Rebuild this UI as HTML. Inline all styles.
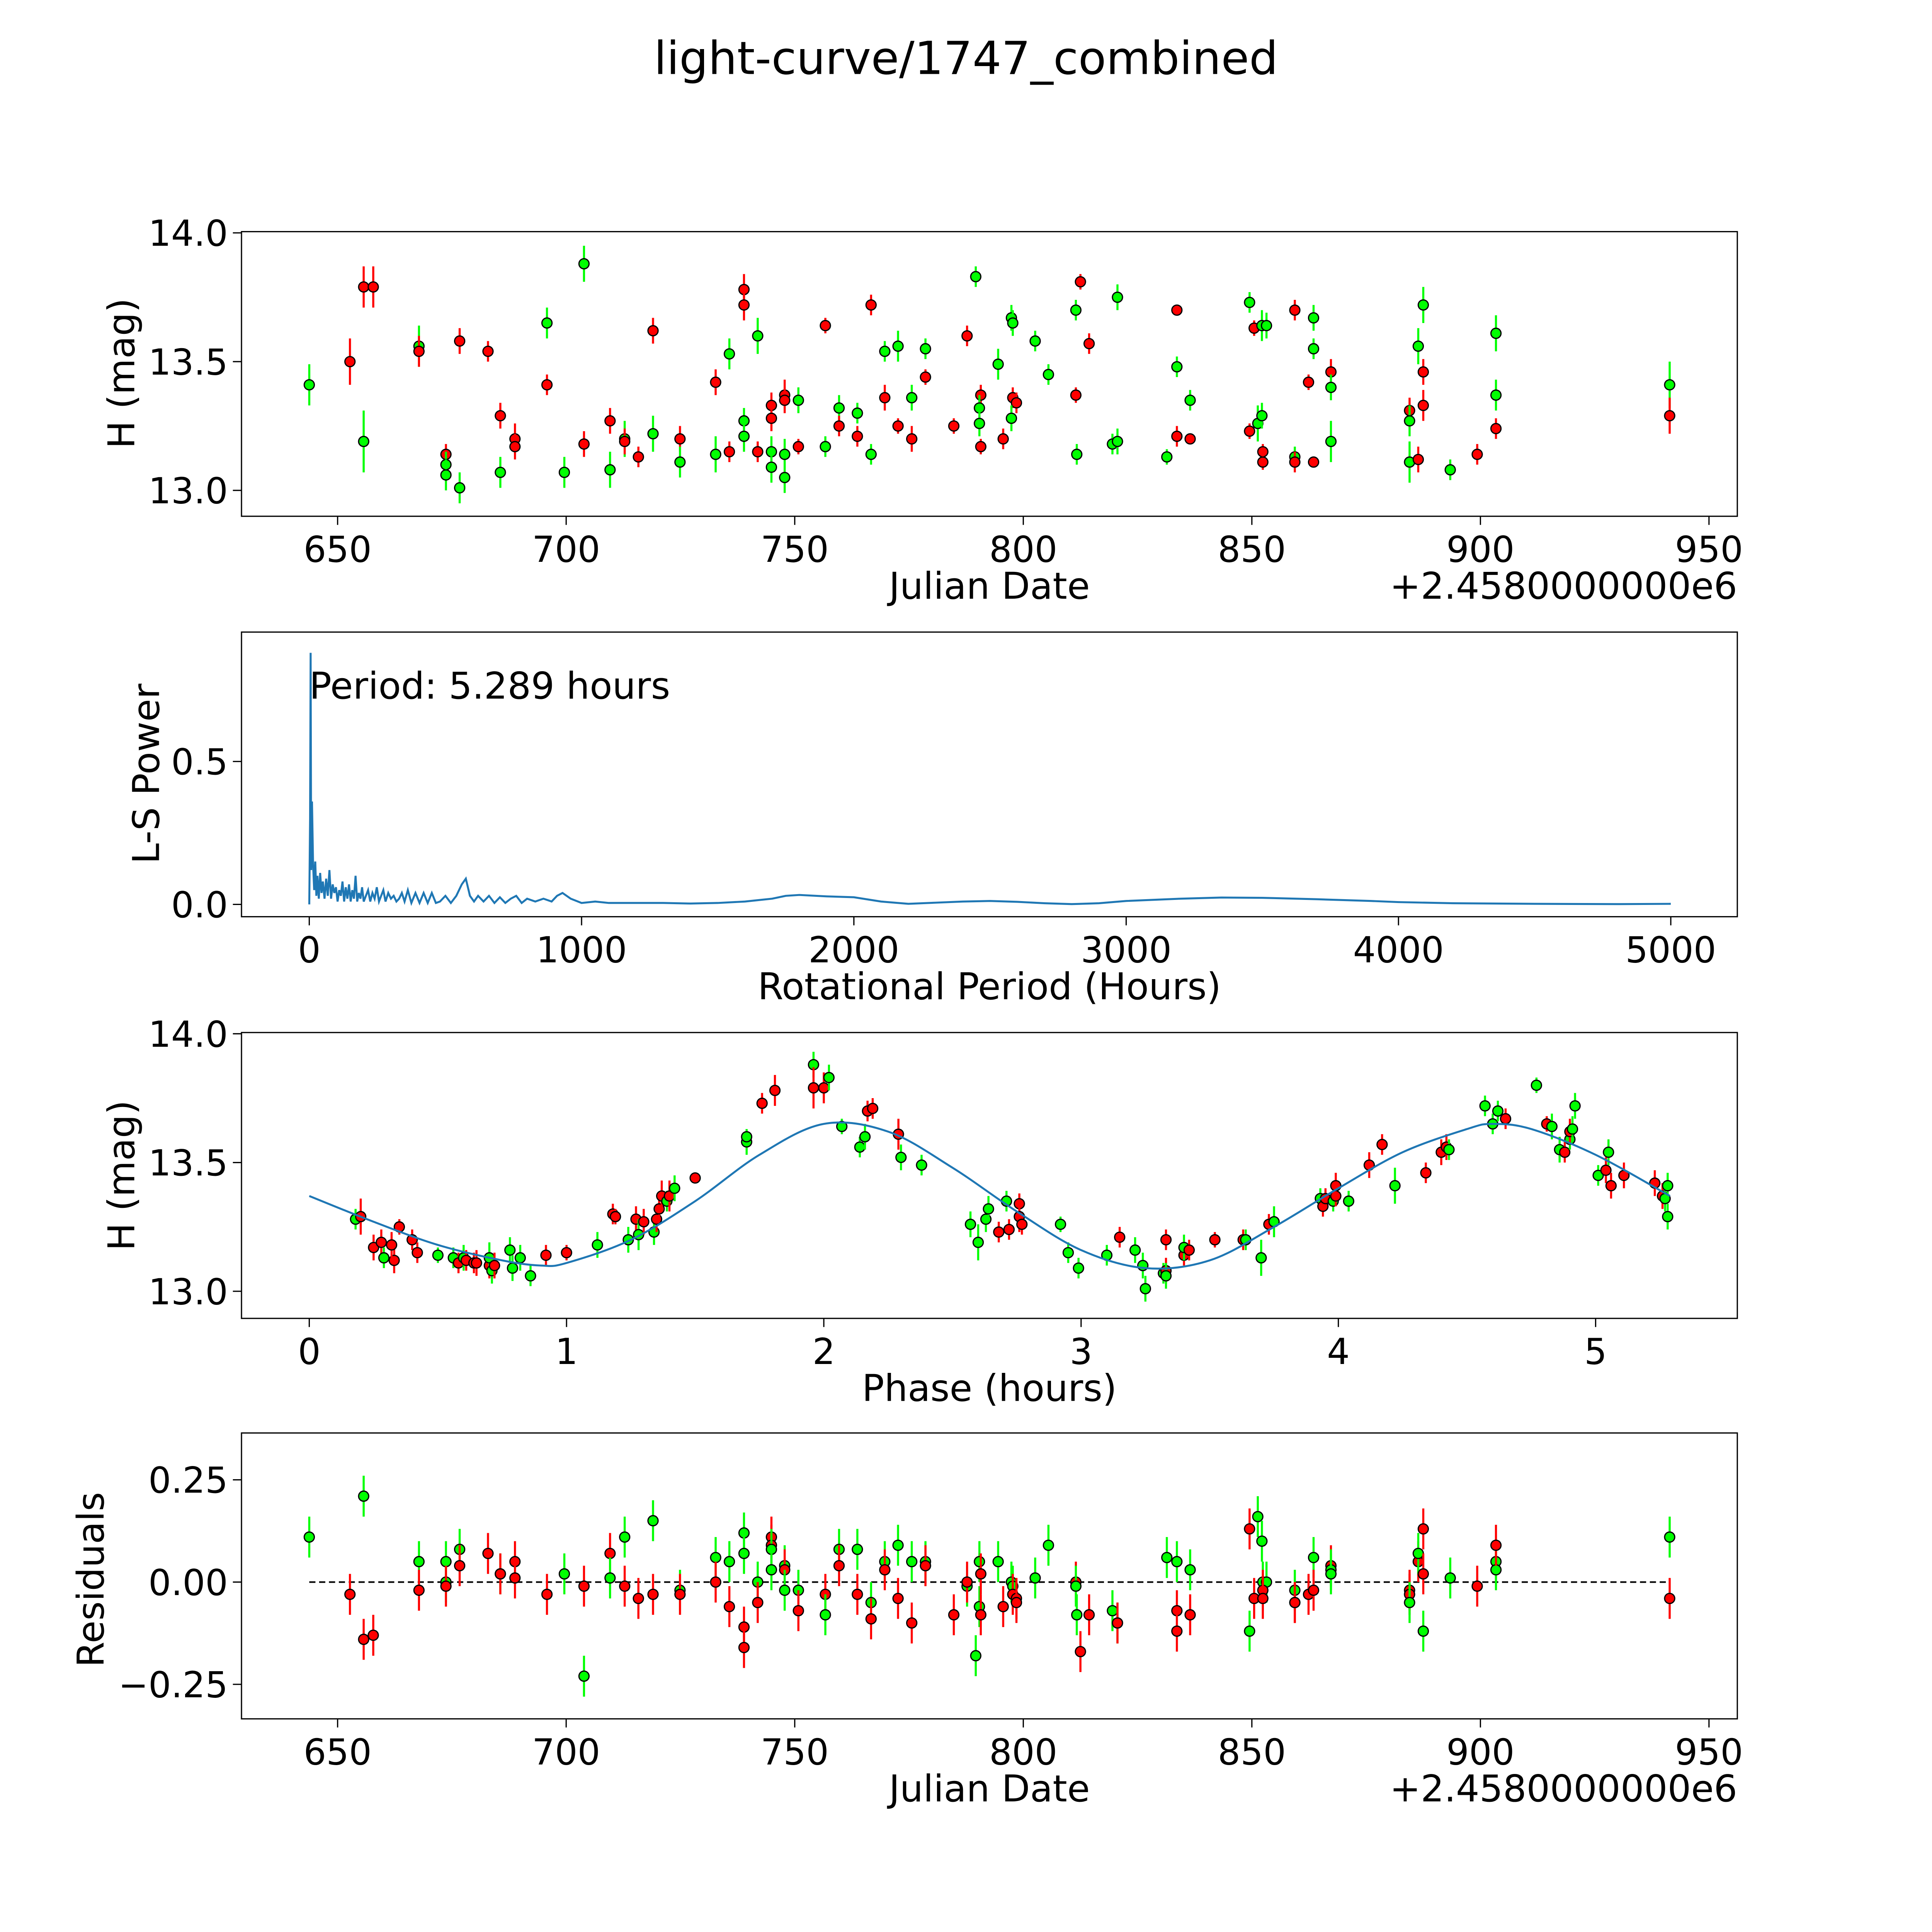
<!DOCTYPE html>
<html><head><meta charset="utf-8"><style>
html,body{margin:0;padding:0;background:#fff;overflow:hidden;width:100vw;height:100vh}
svg{display:block;width:100vw;height:100vh}
text{font-family:"DejaVu Sans","Liberation Sans",sans-serif;fill:#000}
</style></head><body>
<svg id="fig" xmlns="http://www.w3.org/2000/svg" viewBox="0 0 1568 1568" preserveAspectRatio="none">
<rect width="1568" height="1568" fill="#fff"/>
<text x="784" y="60" font-size="37" text-anchor="middle">light-curve/1747_combined</text>
<g id="p1"></g>
<g id="p2"></g>
<g id="p3"></g>
<g id="p4"></g>
</svg>
<script>
// ---------- data ----------
const lcDates=[643.8,652.7,655.7,657.8,655.7,667.8,667.8,673.7,673.7,673.7,676.7,676.7,682.9,685.6,685.6,688.8,688.8,695.8,695.8,699.6,703.9,703.9,709.6,709.6,712.8,712.8,715.8,719.0,719.0,724.9,724.9,732.7,732.7,735.7,735.7,738.9,738.9,738.9,738.9,741.9,741.9,744.9,744.9,744.9,744.9,747.8,747.8,747.8,747.8,750.8,750.8,756.7,756.7,759.7,759.7,763.7,763.7,766.7,766.7,769.7,769.7,772.6,772.6,775.6,775.6,778.6,778.6,784.8,787.7,789.6,790.7,790.4,790.4,790.7,794.5,795.6,797.4,797.7,797.7,798.5,797.4,802.6,805.5,811.5,811.5,811.7,812.5,814.4,819.5,820.6,820.6,831.4,833.6,833.6,833.6,836.5,836.5,849.5,849.5,850.5,851.3,852.2,852.2,853.2,852.4,852.4,859.4,859.4,859.4,862.4,863.5,863.5,863.5,867.3,867.3,867.3,884.5,884.5,884.5,886.4,886.4,887.5,887.5,887.5,893.4,899.3,903.4,903.4,903.4,941.4,941.4];
const lcMags=[13.41,13.50,13.79,13.79,13.19,13.56,13.54,13.14,13.10,13.06,13.58,13.01,13.54,13.29,13.07,13.20,13.17,13.65,13.41,13.07,13.88,13.18,13.27,13.08,13.20,13.19,13.13,13.62,13.22,13.20,13.11,13.42,13.14,13.53,13.15,13.78,13.72,13.27,13.21,13.60,13.15,13.33,13.28,13.15,13.09,13.37,13.35,13.14,13.05,13.35,13.17,13.64,13.17,13.32,13.25,13.30,13.21,13.72,13.14,13.54,13.36,13.56,13.25,13.36,13.20,13.55,13.44,13.25,13.60,13.83,13.37,13.32,13.26,13.17,13.49,13.20,13.67,13.65,13.36,13.34,13.28,13.58,13.45,13.70,13.37,13.14,13.81,13.57,13.18,13.75,13.19,13.13,13.48,13.70,13.21,13.35,13.20,13.73,13.23,13.63,13.26,13.29,13.64,13.64,13.15,13.11,13.70,13.13,13.11,13.42,13.67,13.55,13.11,13.46,13.40,13.19,13.31,13.27,13.11,13.56,13.12,13.72,13.46,13.33,13.08,13.14,13.61,13.37,13.24,13.41,13.29];
const lcColors=['g','r','r','r','g','g','r','r','g','g','r','g','r','r','g','r','r','g','r','g','g','r','r','g','g','r','r','r','g','r','g','r','g','g','r','r','r','g','g','g','r','r','r','g','g','r','r','g','g','g','r','r','g','g','r','g','r','r','g','g','r','g','r','g','r','g','r','r','r','g','r','g','g','r','g','r','g','g','r','r','g','g','g','g','r','g','r','r','g','g','g','g','g','r','r','g','r','g','r','r','g','g','g','g','r','r','r','g','r','r','g','g','r','r','g','g','r','g','g','g','r','g','r','r','g','r','g','g','r','g','r'];
const lcErrs=[0.08,0.09,0.08,0.08,0.12,0.08,0.06,0.04,0.05,0.06,0.05,0.06,0.04,0.05,0.06,0.06,0.05,0.06,0.04,0.06,0.07,0.05,0.05,0.07,0.07,0.05,0.04,0.05,0.07,0.05,0.06,0.05,0.07,0.06,0.04,0.06,0.06,0.05,0.06,0.07,0.04,0.05,0.05,0.06,0.06,0.06,0.05,0.06,0.06,0.05,0.03,0.03,0.04,0.05,0.04,0.04,0.04,0.04,0.04,0.04,0.05,0.06,0.03,0.05,0.05,0.04,0.03,0.03,0.04,0.04,0.04,0.05,0.05,0.03,0.06,0.04,0.05,0.05,0.04,0.04,0.05,0.04,0.04,0.04,0.03,0.04,0.03,0.04,0.04,0.05,0.05,0.03,0.04,0.02,0.04,0.04,0.02,0.04,0.03,0.03,0.07,0.05,0.06,0.05,0.03,0.03,0.04,0.04,0.04,0.03,0.05,0.04,0.02,0.05,0.05,0.08,0.05,0.06,0.08,0.07,0.05,0.07,0.05,0.06,0.04,0.04,0.07,0.06,0.04,0.09,0.07];

const resDates=[643.8,652.7,655.7,655.7,657.8,667.8,667.8,673.7,673.7,673.7,676.7,676.7,682.9,685.6,685.6,688.8,688.8,695.8,699.6,703.9,703.9,709.6,709.6,712.8,712.8,715.8,719.0,719.0,724.9,724.9,732.7,732.7,735.7,735.7,738.9,738.9,738.9,738.9,741.9,741.9,744.9,744.9,744.9,744.9,747.8,747.8,747.8,750.8,750.8,756.7,756.7,759.7,759.7,763.7,763.7,766.7,766.7,769.7,769.7,772.6,772.6,775.6,775.6,778.6,778.6,784.8,787.7,787.7,789.6,790.4,790.4,790.7,790.7,794.5,795.6,797.4,797.7,797.7,798.5,798.5,802.6,805.5,811.5,811.5,811.7,812.5,814.4,819.5,820.6,820.6,831.4,833.6,833.6,833.6,836.5,836.5,849.5,849.5,850.5,851.3,852.2,852.4,853.2,852.4,852.4,859.4,859.4,859.4,862.4,863.5,863.5,867.3,867.3,867.3,884.5,884.5,884.5,886.4,886.4,887.5,887.5,887.5,893.4,899.3,903.4,903.4,903.4,941.4,941.4];
const resVals=[0.11,-0.03,0.21,-0.14,-0.13,0.05,-0.02,0.05,0.00,-0.01,0.08,0.04,0.07,0.02,0.02,0.05,0.01,-0.03,0.02,-0.01,-0.23,0.07,0.01,0.11,-0.01,-0.04,0.15,-0.03,-0.02,-0.03,0.06,0.00,0.05,-0.06,0.12,0.07,-0.11,-0.16,0.00,-0.05,0.11,0.09,0.08,0.03,0.04,0.03,-0.02,-0.02,-0.07,-0.03,-0.08,0.08,0.04,0.08,-0.03,-0.05,-0.09,0.05,0.03,0.09,-0.04,0.05,-0.10,0.05,0.04,-0.08,-0.01,0.00,-0.18,0.05,-0.06,0.02,-0.08,0.05,-0.06,0.00,-0.01,-0.03,-0.04,-0.05,0.01,0.09,0.00,-0.01,-0.08,-0.17,-0.08,-0.07,-0.10,-0.10,0.06,0.05,-0.07,-0.12,0.03,-0.08,0.13,-0.12,-0.04,0.16,0.10,0.00,0.00,-0.02,-0.04,-0.02,-0.05,-0.05,-0.03,0.06,-0.02,0.04,0.03,0.02,-0.02,-0.03,-0.05,0.05,0.07,0.13,0.02,-0.12,0.01,-0.01,0.05,0.03,0.09,0.11,-0.04];
const resColors=['g','r','g','r','r','g','r','g','g','r','g','r','r','g','r','r','r','r','g','r','g','r','g','g','r','r','g','r','g','r','g','r','g','r','g','g','r','r','g','r','r','r','g','g','g','r','g','g','r','r','g','g','r','g','r','g','r','g','r','g','r','g','r','g','r','r','g','r','g','g','g','r','r','g','r','g','g','r','r','r','g','g','r','g','g','r','r','g','g','r','g','g','r','r','g','r','r','g','r','g','g','g','g','r','r','g','r','r','r','g','r','r','g','g','r','r','g','r','g','r','r','g','g','r','g','g','r','g','r'];

const phases=[0.18,0.20,0.25,0.28,0.29,0.33,0.32,0.35,0.40,0.42,0.50,0.56,0.58,0.60,0.61,0.64,0.65,0.70,0.70,0.71,0.72,0.78,0.79,0.82,0.86,0.92,1.00,1.12,1.18,1.19,1.24,1.27,1.28,1.30,1.34,1.35,1.36,1.37,1.39,1.40,1.42,1.50,1.70,1.70,1.76,1.81,1.96,1.96,2.00,2.02,2.07,2.14,2.16,2.17,2.19,2.29,2.30,2.38,2.57,2.60,2.63,2.64,2.68,2.71,2.72,2.76,2.76,2.77,2.92,2.95,2.99,3.10,3.15,3.21,3.24,3.25,3.32,3.33,3.33,3.33,3.40,3.40,3.42,3.52,3.63,3.64,3.70,3.73,3.75,3.93,3.94,3.95,3.98,3.99,3.99,4.04,4.12,4.17,4.22,4.34,4.40,4.42,4.43,4.57,4.60,4.62,4.65,4.77,4.81,4.83,4.86,4.88,4.90,4.90,4.91,4.92,5.01,5.04,5.05,5.06,5.11,5.23,5.26,5.27,5.28,5.28];
const phaseMags=[13.28,13.29,13.17,13.19,13.13,13.12,13.18,13.25,13.20,13.15,13.14,13.13,13.11,13.13,13.12,13.11,13.11,13.10,13.13,13.08,13.10,13.16,13.09,13.13,13.06,13.14,13.15,13.18,13.30,13.29,13.20,13.28,13.22,13.27,13.23,13.28,13.32,13.37,13.35,13.37,13.40,13.44,13.58,13.60,13.73,13.78,13.88,13.79,13.79,13.83,13.64,13.56,13.60,13.70,13.71,13.61,13.52,13.49,13.26,13.19,13.28,13.32,13.23,13.35,13.24,13.34,13.29,13.26,13.26,13.15,13.09,13.14,13.21,13.16,13.10,13.01,13.07,13.20,13.08,13.06,13.14,13.17,13.16,13.20,13.20,13.20,13.13,13.26,13.27,13.36,13.33,13.36,13.35,13.37,13.41,13.35,13.49,13.57,13.41,13.46,13.54,13.56,13.55,13.72,13.65,13.70,13.67,13.80,13.65,13.64,13.55,13.54,13.59,13.62,13.63,13.72,13.45,13.47,13.54,13.41,13.45,13.42,13.37,13.36,13.41,13.29];
const phaseColors=['g','r','r','r','g','r','r','r','r','r','g','g','r','g','r','r','r','r','g','g','r','g','g','g','g','r','r','g','r','r','g','r','g','r','g','r','r','r','g','r','g','r','g','g','r','r','g','r','r','g','g','g','g','r','r','r','g','g','g','g','g','g','r','g','r','r','r','r','g','g','g','g','r','g','g','g','g','r','r','g','r','g','r','r','r','g','g','r','g','g','r','r','g','r','r','g','r','r','g','r','r','r','g','g','g','g','r','g','r','g','g','r','g','r','g','g','g','r','g','r','r','r','r','g','g','g'];
const phaseErrs=[0.04,0.07,0.05,0.05,0.04,0.05,0.05,0.03,0.04,0.04,0.03,0.04,0.04,0.05,0.04,0.04,0.05,0.05,0.06,0.05,0.05,0.05,0.05,0.05,0.04,0.04,0.03,0.05,0.04,0.03,0.05,0.05,0.06,0.05,0.05,0.05,0.04,0.06,0.04,0.06,0.05,0.02,0.05,0.03,0.04,0.06,0.05,0.08,0.06,0.05,0.03,0.04,0.05,0.04,0.04,0.06,0.05,0.04,0.05,0.07,0.05,0.05,0.04,0.04,0.04,0.04,0.06,0.04,0.03,0.04,0.04,0.04,0.04,0.05,0.05,0.05,0.04,0.04,0.05,0.05,0.04,0.05,0.04,0.03,0.04,0.04,0.07,0.04,0.06,0.04,0.04,0.04,0.04,0.04,0.05,0.04,0.05,0.04,0.07,0.04,0.05,0.05,0.04,0.04,0.04,0.04,0.04,0.03,0.03,0.05,0.05,0.04,0.04,0.05,0.05,0.05,0.04,0.05,0.05,0.05,0.05,0.05,0.05,0.05,0.05,0.05,0.05,0.07];

const modelPhase=[0,0.25,0.5,0.75,0.9,1.0,1.25,1.5,1.75,2.0,2.25,2.5,2.75,3.0,3.25,3.5,3.75,4.0,4.25,4.5,4.6,4.75,5.0,5.289];
const modelMag=[13.37,13.27,13.18,13.12,13.10,13.11,13.20,13.35,13.53,13.65,13.62,13.48,13.31,13.16,13.09,13.12,13.25,13.40,13.54,13.63,13.65,13.63,13.53,13.37];

const lsPeriod=[0,3,5,7,10,14,18,22,26,30,35,40,45,50,56,62,68,74,80,86,92,98,104,110,116,122,128,134,140,146,152,158,164,170,176,182,188,194,200,208,216,224,232,240,248,256,264,272,280,290,300,310,320,330,340,350,362,375,390,405,420,435,450,465,480,500,520,540,560,575,590,605,620,640,660,680,700,720,740,760,780,800,830,860,890,910,930,960,1000,1050,1100,1200,1300,1400,1500,1600,1650,1700,1750,1800,1900,2000,2100,2200,2300,2400,2500,2600,2700,2800,2900,3000,3200,3350,3500,3700,3900,4000,4200,4500,4800,5000];
const lsPower=[0.0,0.30,0.88,0.12,0.36,0.14,0.05,0.15,0.03,0.10,0.02,0.11,0.04,0.08,0.02,0.09,0.03,0.12,0.02,0.07,0.04,0.06,0.01,0.05,0.03,0.08,0.01,0.06,0.02,0.07,0.01,0.05,0.02,0.10,0.01,0.04,0.02,0.06,0.01,0.03,0.05,0.01,0.04,0.02,0.06,0.01,0.03,0.05,0.01,0.04,0.02,0.03,0.01,0.02,0.04,0.01,0.05,0.005,0.04,0.005,0.04,0.005,0.04,0.005,0.01,0.03,0.005,0.03,0.07,0.09,0.03,0.01,0.03,0.01,0.03,0.005,0.025,0.005,0.02,0.03,0.005,0.02,0.01,0.02,0.01,0.03,0.04,0.02,0.005,0.01,0.005,0.005,0.005,0.003,0.005,0.01,0.015,0.02,0.03,0.033,0.028,0.025,0.01,0.002,0.006,0.01,0.012,0.009,0.004,0.001,0.004,0.012,0.02,0.024,0.023,0.018,0.012,0.008,0.004,0.002,0.001,0.002];

// ---------- drawing helpers ----------
const NS='http://www.w3.org/2000/svg';
const COL={g:'#00ff00',r:'#ff0000'};
const TICK_FS=29, LAB_FS=30;
function mk(parent,tag,attrs,txt){const e=document.createElementNS(NS,tag);for(const k in attrs)e.setAttribute(k,attrs[k]);if(txt!==undefined)e.textContent=txt;parent.appendChild(e);return e;}
function lin(d0,d1,p0,p1){return v=>p0+(v-d0)*(p1-p0)/(d1-d0);}

function frame(g,L,T,R,B){
  const r=mk(g,'rect',{x:L,y:T,width:R-L,height:B-T,fill:'none',stroke:'#000','stroke-width':1});
  
  
}
function xticks(g,vals,sx,B,name){
  vals.forEach(v=>{
    const x=sx(v);
    mk(g,'line',{x1:x,x2:x,y1:B,y2:B+7,stroke:'#000','stroke-width':1});
    const t=mk(g,'text',{x:x,y:B+37,'font-size':TICK_FS,'text-anchor':'middle'},String(v));
    
    
  });
}
function yticks(g,vals,labels,sy,L,name){
  vals.forEach((v,i)=>{
    const y=sy(v);
    mk(g,'line',{x1:L-7,x2:L,y1:y,y2:y,stroke:'#000','stroke-width':1});
    const t=mk(g,'text',{x:L-11,y:y+10.5,'font-size':TICK_FS,'text-anchor':'end'},labels[i]);
    
    
  });
}
function label(g,txt,x,y,rot,name){
  const t=mk(g,'text',{x:x,y:y,'font-size':LAB_FS,'text-anchor':'middle',transform:rot?`rotate(-90 ${x} ${y})`:''},txt);
  
  
}
function pt(g,x,y,c,e1,e2,name){
  const grp=mk(g,'g',{});
  
  
  const col=COL[c]||COL.g;
  mk(grp,'line',{x1:x,x2:x,y1:e1,y2:e2,stroke:col,'stroke-width':1.7});
  mk(grp,'circle',{cx:x,cy:y,r:4.1,fill:col,stroke:'#000','stroke-width':1});
}

const L=196,R=1410;
// ---------- panel 1 ----------
(function(){
  const g=document.getElementById('p1');const T=188,B=419;
  const sx=lin(650,950,274,1387), sy=lin(13,14,398,189);
  frame(g,L,T,R,B);
  lcDates.forEach((d,i)=>pt(g,sx(d),sy(lcMags[i]),lcColors[i],sy(lcMags[i]+lcErrs[i]),sy(lcMags[i]-lcErrs[i]),'light-curve-point'));
  xticks(g,[650,700,750,800,850,900,950],sx,B,'x-tick-label');
  yticks(g,[13,13.5,14],['13.0','13.5','14.0'],sy,L,'y-tick-label');
  label(g,'Julian Date',803,486,false,'x-axis-title');
  const o=mk(g,'text',{x:1410,y:486,'font-size':LAB_FS,'text-anchor':'end'},'+2.4580000000e6');
  
  
  label(g,'H (mag)',109,303,true,'y-axis-title');
})();
// ---------- panel 2 ----------
(function(){
  const g=document.getElementById('p2');const T=513,B=744;
  const sx=lin(0,5000,251,1356), sy=lin(0,0.5,734,618);
  frame(g,L,T,R,B);
  const d=lsPeriod.map((p,i)=>(i?'L':'M')+sx(p).toFixed(2)+','+sy(lsPower[i]).toFixed(2)).join(' ');
  const pl=mk(g,'path',{d:d,fill:'none',stroke:'#1f77b4','stroke-width':1.6});
  
  
  xticks(g,[0,1000,2000,3000,4000,5000],sx,B,'x-tick-label');
  yticks(g,[0,0.5],['0.0','0.5'],sy,L,'y-tick-label');
  label(g,'Rotational Period (Hours)',803,811,false,'x-axis-title');
  label(g,'L-S Power',129,628,true,'y-axis-title');
  const t=mk(g,'text',{x:251,y:567,'font-size':LAB_FS},'Period: 5.289 hours');
  
  
})();
// ---------- panel 3 ----------
(function(){
  const g=document.getElementById('p3');const T=838,B=1070;
  const sx=lin(0,5,251,1295), sy=lin(13,14,1048,839);
  frame(g,L,T,R,B);
  phases.forEach((p,i)=>pt(g,sx(p),sy(phaseMags[i]),phaseColors[i],sy(phaseMags[i]+phaseErrs[i]),sy(phaseMags[i]-phaseErrs[i]),'phase-point'));
  const P=modelPhase.map((p,i)=>[sx(p),sy(modelMag[i])]);
  let d='M'+P[0][0]+','+P[0][1];
  for(let i=0;i<P.length-1;i++){
    const p0=P[Math.max(0,i-1)],p1=P[i],p2=P[i+1],p3=P[Math.min(P.length-1,i+2)];
    const c1=[p1[0]+(p2[0]-p0[0])/6,p1[1]+(p2[1]-p0[1])/6];
    const c2=[p2[0]-(p3[0]-p1[0])/6,p2[1]-(p3[1]-p1[1])/6];
    d+=` C${c1[0]},${c1[1]} ${c2[0]},${c2[1]} ${p2[0]},${p2[1]}`;
  }
  const m=mk(g,'path',{d:d,fill:'none',stroke:'#1f77b4','stroke-width':1.6});
  
  
  xticks(g,[0,1,2,3,4,5],sx,B,'x-tick-label');
  yticks(g,[13,13.5,14],['13.0','13.5','14.0'],sy,L,'y-tick-label');
  label(g,'Phase (hours)',803,1137,false,'x-axis-title');
  label(g,'H (mag)',109,954,true,'y-axis-title');
})();
// ---------- panel 4 ----------
(function(){
  const g=document.getElementById('p4');const T=1163,B=1395;
  const sx=lin(650,950,274,1387), sy=lin(0,0.25,1284,1201);
  frame(g,L,T,R,B);
  const z=mk(g,'line',{x1:sx(643.8),x2:sx(941.4),y1:sy(0),y2:sy(0),stroke:'#000','stroke-width':1.3,'stroke-dasharray':'5,3'});
  
  
  resDates.forEach((d,i)=>{const e=0.05;pt(g,sx(d),sy(resVals[i]),resColors[i],sy(resVals[i]+e),sy(resVals[i]-e),'residual-point');});
  xticks(g,[650,700,750,800,850,900,950],sx,B,'x-tick-label');
  yticks(g,[0.25,0,-0.25],['0.25','0.00','\u22120.25'],sy,L,'y-tick-label');
  label(g,'Julian Date',803,1462,false,'x-axis-title');
  const o=mk(g,'text',{x:1410,y:1462,'font-size':LAB_FS,'text-anchor':'end'},'+2.4580000000e6');
  
  
  label(g,'Residuals',84,1282,true,'y-axis-title');
})();
</script>
</body></html>
